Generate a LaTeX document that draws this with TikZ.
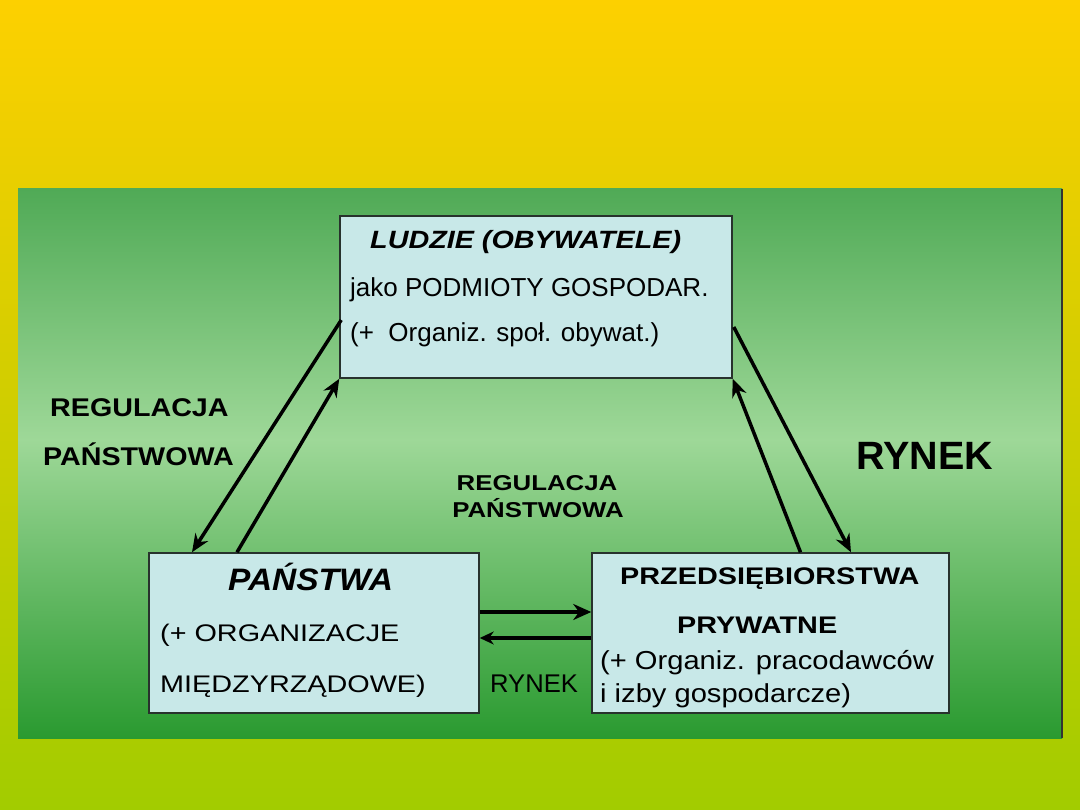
\documentclass[tikz,border=0pt]{standalone}
\usepackage{fontspec}
\setmainfont{Liberation Sans}
\newfontfamily\fA{Liberation Sans}
\newfontfamily\fB[FakeStretch=1.08]{Liberation Sans}
\newfontfamily\fC[FakeStretch=1.12]{Liberation Sans}
\newfontfamily\fD[FakeStretch=1.15]{Liberation Sans}
\newfontfamily\fE[FakeStretch=1.2]{Liberation Sans}
\usetikzlibrary{arrows.meta,calc}
\definecolor{bgtop}{RGB}{253,208,0}
\definecolor{bgbot}{RGB}{162,204,0}
\definecolor{grT}{RGB}{80,170,86}
\definecolor{grM}{RGB}{158,216,152}
\definecolor{grB}{RGB}{42,154,48}
\definecolor{boxfill}{RGB}{200,232,232}
\definecolor{boxline}{RGB}{40,50,45}
\newcommand{\fsz}[1]{\fontsize{#1}{#1}\selectfont}
\begin{document}
\begin{tikzpicture}[x=1pt,y=-1pt,
  box/.style={draw=boxline,line width=1.5pt,fill=boxfill,inner sep=0pt},
  txt/.style={anchor=base west,inner sep=0pt,text=black},
  ctxt/.style={anchor=base,inner sep=0pt,text=black},
  arr/.style={line width=3.5pt,-{Stealth[length=18pt,width=15pt]}},
  harr/.style={line width=4.5pt,-{Stealth[length=18pt,width=16pt]}},
  harrb/.style={line width=3.5pt,-{Stealth[length=14pt,width=13pt]}}]
\useasboundingbox (0,0) rectangle (1080,810);
% background
\shade[top color=bgtop,bottom color=bgbot] (0,0) rectangle (1080,810);
% green panel
\shade[top color=grT,bottom color=grM] (18,189) rectangle (1062,440);
\shade[top color=grM,bottom color=grB] (18,439.5) rectangle (1062,738);
\draw[line width=1.5pt,black!80] (1062,189) -- (1062,738);
% boxes
\node[box,minimum width=392pt,minimum height=162pt] (top) at (536,297) {};
\node[box,minimum width=330pt,minimum height=160pt] (left) at (314,633) {};
\node[box,minimum width=357pt,minimum height=160pt] (right) at (770.5,633) {};
% top box text
\node[txt] (t1) at (370,249) {\fD\fsz{25}\bfseries\itshape LUDZIE (OBYWATELE)};
\node[txt] (t2) at (350,297) {\fA\fsz{26}jako PODMIOTY GOSPODAR.};
\node[txt] (t3) at (350,342) {\fA\fsz{26}(+~~Organiz. społ. obywat.)};
% left box text
\node[txt] (l1) at (228,590) {\fB\fsz{31}\bfseries\itshape PAŃSTWA};
\node[txt] (l2) at (160,641) {\fE\fsz{24}(+ ORGANIZACJE};
\node[txt] (l3) at (160,692) {\fE\fsz{24}MIĘDZYRZĄDOWE)};
% right box text
\node[txt] (r1) at (620,584) {\fE\fsz{24}\bfseries PRZEDSIĘBIORSTWA};
\node[txt] (r2) at (677,633) {\fE\fsz{24}\bfseries PRYWATNE};
\node[txt] (r3) at (600,669) {\fC\fsz{26}(+ Organiz. pracodawców};
\node[txt] (r4) at (600,702) {\fC\fsz{26}i izby gospodarcze)};
% labels
\node[txt] (g1) at (50,417) {\fC\fsz{25.6}\bfseries REGULACJA};
\node[txt] (g2) at (43,465) {\fC\fsz{25.6}\bfseries PAŃSTWOWA};
\node[ctxt] (m1) at (537,490) {\fE\fsz{21.5}\bfseries REGULACJA};
\node[ctxt] (m2) at (538,518) {\fE\fsz{21.5}\bfseries PAŃSTWOWA};
\node[txt] (rk) at (856,470) {\fA\fsz{39.5}\bfseries RYNEK};
\node[txt] (rs) at (490,692) {\fA\fsz{25.6}RYNEK};
% arrows
\draw[arr] ($(top.west)+(2,23)$) -- ($(left.north)+(-122,0)$);
\draw[arr] ($(left.north)+(-77,0)$) -- (top.south west);
\draw[arr] ($(top.east)+(1,30)$) -- ($(right.north)+(80.5,0)$);
\draw[arr] ($(right.north)+(30,0)$) -- (top.south east);
\draw[harr] ($(left.east)+(0,-21)$) -- ($(right.west)+(0,-21)$);
\draw[harrb] ($(right.west)+(0,5)$) -- ($(left.east)+(0,5)$);
\end{tikzpicture}
\end{document}
